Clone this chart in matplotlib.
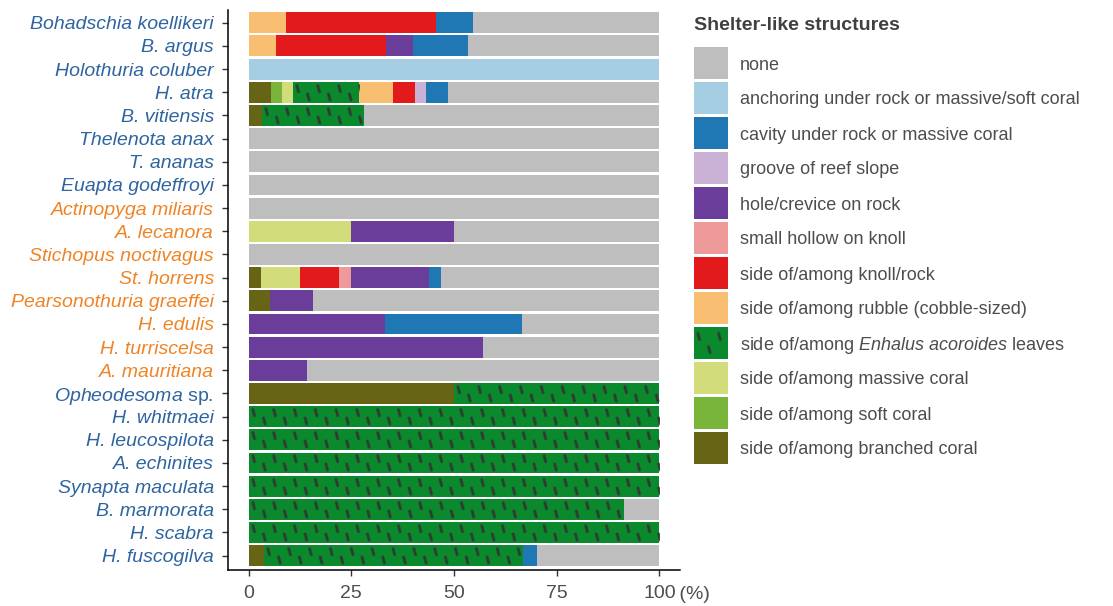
import numpy as np
import matplotlib.pyplot as plt
from matplotlib.patches import Rectangle

plt.rcParams['font.family'] = ['Liberation Sans', 'DejaVu Sans']
plt.rcParams['mathtext.fontset'] = 'custom'
plt.rcParams['mathtext.it'] = 'Liberation Sans:italic'
plt.rcParams['mathtext.rm'] = 'Liberation Sans'

species = ["Bohadschia koellikeri", "B. argus", "Holothuria coluber", "H. atra",
           "B. vitiensis", "Thelenota anax", "T. ananas", "Euapta godeffroyi",
           "Actinopyga miliaris", "A. lecanora", "Stichopus noctivagus", "St. horrens",
           "Pearsonothuria graeffei", "H. edulis", "H. turriscelsa", "A. mauritiana",
           "Opheodesoma sp.", "H. whitmaei", "H. leucospilota", "A. echinites",
           "Synapta maculata", "B. marmorata", "H. scabra", "H. fuscogilva"]
group = ["a"] * 8 + ["b"] * 8 + ["a"] * 8
group_colors = {"a": "#2e64a0", "b": "#ef8426"}

# stacking order, left to right
categories = ["branched", "soft", "massive", "enhalus", "rubble", "knoll",
              "hollow", "hole", "groove", "cavity", "anchoring", "none"]
cat_labels = {
    "none": "none",
    "anchoring": "anchoring under rock or massive/soft coral",
    "cavity": "cavity under rock or massive coral",
    "groove": "groove of reef slope",
    "hole": "hole/crevice on rock",
    "hollow": "small hollow on knoll",
    "knoll": "side of/among knoll/rock",
    "rubble": "side of/among rubble (cobble-sized)",
    "enhalus": "side of/among $\\mathit{Enhalus\\ acoroides}$ leaves",
    "massive": "side of/among massive coral",
    "soft": "side of/among soft coral",
    "branched": "side of/among branched coral",
}
cat_colors = {
    "none": "#bebebe", "anchoring": "#a6cee3", "cavity": "#1f78b4",
    "groove": "#cab2d6", "hole": "#6a3d9a", "hollow": "#ee9a9a",
    "knoll": "#e31a1c", "rubble": "#f8be72", "enhalus": "#0b8a2d",
    "massive": "#d3dc7a", "soft": "#78b53a", "branched": "#676415",
}

# % of observations per species (same order as species)
branched = [0, 0, 0, 5.4, 3.2, 0, 0, 0, 0, 0, 0, 3.1, 5.3, 0, 0, 0, 50, 0, 0, 0, 0, 0, 0, 3.7]
soft = [0, 0, 0, 2.7, 0, 0, 0, 0, 0, 0, 0, 0, 0, 0, 0, 0, 0, 0, 0, 0, 0, 0, 0, 0]
massive = [0, 0, 0, 2.7, 0, 0, 0, 0, 0, 25, 0, 9.4, 0, 0, 0, 0, 0, 0, 0, 0, 0, 0, 0, 0]
enhalus = [0, 0, 0, 16.2, 24.8, 0, 0, 0, 0, 0, 0, 0, 0, 0, 0, 0, 50, 100, 100, 100, 100, 91.3, 100, 63.1]
rubble = [9.1, 6.7, 0, 8.1, 0, 0, 0, 0, 0, 0, 0, 0, 0, 0, 0, 0, 0, 0, 0, 0, 0, 0, 0, 0]
knoll = [36.4, 26.7, 0, 5.4, 0, 0, 0, 0, 0, 0, 0, 9.4, 0, 0, 0, 0, 0, 0, 0, 0, 0, 0, 0, 0]
hollow = [0, 0, 0, 0, 0, 0, 0, 0, 0, 0, 0, 3.1, 0, 0, 0, 0, 0, 0, 0, 0, 0, 0, 0, 0]
hole = [0, 6.7, 0, 0, 0, 0, 0, 0, 0, 25, 0, 18.8, 10.5, 33.3, 57.1, 14.3, 0, 0, 0, 0, 0, 0, 0, 0]
groove = [0, 0, 0, 2.7, 0, 0, 0, 0, 0, 0, 0, 0, 0, 0, 0, 0, 0, 0, 0, 0, 0, 0, 0, 0]
cavity = [9.1, 13.3, 0, 5.4, 0, 0, 0, 0, 0, 0, 0, 3.1, 0, 33.3, 0, 0, 0, 0, 0, 0, 0, 0, 0, 3.3]
anchoring = [0, 0, 100, 0, 0, 0, 0, 0, 0, 0, 0, 0, 0, 0, 0, 0, 0, 0, 0, 0, 0, 0, 0, 0]
none = [45.4, 46.6, 0, 51.4, 72.0, 100, 100, 100, 100, 50, 100, 53.1, 84.2, 33.4, 42.9, 85.7,
        0, 0, 0, 0, 0, 8.7, 0, 29.9]

data = {"branched": branched, "soft": soft, "massive": massive, "enhalus": enhalus,
        "rubble": rubble, "knoll": knoll, "hollow": hollow, "hole": hole,
        "groove": groove, "cavity": cavity, "anchoring": anchoring, "none": none}

W, H = 1113, 606
BAR_H = 0.9


def leaf_texture(w_px, h_px, scale=3):
    # dark slanted dashes on a transparent background, two staggered rows
    nx, ny = max(int(round(w_px * scale)), 1), max(int(round(h_px * scale)), 1)
    yy, xx = np.mgrid[0:ny, 0:nx]
    xx = (xx + 0.5) / scale
    yy = (yy + 0.5) / scale
    period = 20.8
    ux, uy = np.array([1.6, 6.0]) / np.hypot(1.6, 6.0)
    half = np.hypot(0.8, 3.0)
    alpha = np.zeros((ny, nx))
    for x0, t in ((4.7, h_px * 0.32), (15.3, h_px * 0.72)):
        dx = ((xx - x0 + period / 2) % period) - period / 2
        dy = yy - t
        p = np.clip(dx * ux + dy * uy, -half, half)
        dist = np.hypot(dx - p * ux, dy - p * uy)
        alpha = np.maximum(alpha, np.clip(1.9 - dist, 0, 1))
    img = np.zeros((ny, nx, 4))
    img[..., :3] = 0.2
    img[..., 3] = alpha * 0.92
    return img


fig = plt.figure(figsize=(W / 100, H / 100), dpi=100)
ax = fig.add_axes([228 / W, 36 / H, 452 / W, 560 / H])

xlim = (-5, 105)
ylim = (23.62, -0.55)
px_x = 452 / (xlim[1] - xlim[0])
px_y = 560 / (ylim[0] - ylim[1])

y = np.arange(len(species))
left = np.zeros(len(species))
for cat in categories:
    vals = np.array(data[cat], dtype=float)
    ax.barh(y, vals, left=left, height=BAR_H, color=cat_colors[cat], linewidth=0)
    if cat == "enhalus":
        for yi, l, v in zip(y, left, vals):
            if v > 0:
                tex = leaf_texture(v * px_x, BAR_H * px_y)
                ax.imshow(tex, extent=(l, l + v, yi + BAR_H / 2, yi - BAR_H / 2),
                          origin="upper", aspect="auto", interpolation="bilinear",
                          zorder=2.5)
    left += vals

ax.set_xlim(*xlim)
ax.set_ylim(*ylim)
ax.set_xticks([0, 25, 50, 75, 100], ["0", "25", "50", "75", "100"])
ax.set_yticks(y, [("$\\mathit{Opheodesoma}$ sp." if s == "Opheodesoma sp." else s)
                  for s in species])
for lab, s, g in zip(ax.get_yticklabels(), species, group):
    lab.set_color(group_colors[g])
    lab.set_fontstyle("normal" if s == "Opheodesoma sp." else "italic")
ax.tick_params(axis="both", labelsize=14, length=4.6, width=1.0, color="#333333")
ax.tick_params(axis="x", labelcolor="#4d4d4d", pad=6.5)
ax.tick_params(axis="y", pad=5.5)
for side in ("top", "right"):
    ax.spines[side].set_visible(False)
for side in ("left", "bottom"):
    ax.spines[side].set_linewidth(1.1)
    ax.spines[side].set_color("black")

ax.annotate(" (%)", xy=(100, 0), xycoords=("data", "axes fraction"),
            xytext=(10.4, -11.6), textcoords="offset points",
            ha="left", va="top", fontsize=14, color="#4d4d4d")

# legend, drawn in pixel coordinates
lg = fig.add_axes([0, 0, 1, 1], zorder=3)
lg.set_xlim(0, W)
lg.set_ylim(H, 0)
lg.axis("off")
lg.patch.set_alpha(0)
lg.text(694, 26, "Shelter-like structures", fontsize=14, fontweight="bold",
        color="#404040", va="center", ha="left")
legend_order = categories[::-1]
for i, cat in enumerate(legend_order):
    yc = 63 + 35 * i
    lg.add_patch(Rectangle((694, yc - 16.3), 34, 32.6, facecolor=cat_colors[cat],
                           linewidth=0))
    if cat == "enhalus":
        lg.imshow(leaf_texture(34, 32.6), extent=(694, 728, yc + 16.3, yc - 16.3),
                  origin="upper", aspect="auto", interpolation="bilinear", zorder=2)
    lg.text(740, yc + 2, cat_labels[cat], fontsize=13, color="#4d4d4d",
            va="center", ha="left")
lg.set_xlim(0, W)
lg.set_ylim(H, 0)

fig.savefig("out.png", dpi=100)
